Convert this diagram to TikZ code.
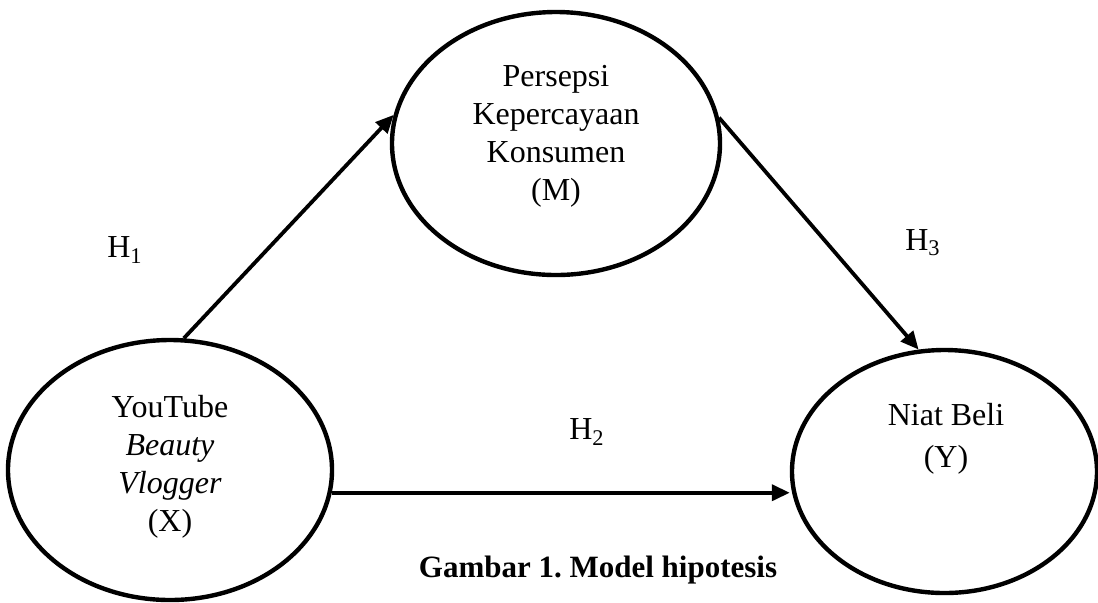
\documentclass[tikz,border=0pt]{standalone}
\usepackage{fontspec}
\setmainfont{Liberation Serif}
\usetikzlibrary{shapes.geometric,arrows.meta}
\tikzset{
  var/.style={ellipse, draw, line width=2.2pt, inner sep=0pt},
  lbl/.style={align=center, font=\fontsize{16}{19}\selectfont, inner sep=0pt},
  path/.style={line width=1.9pt, -{Triangle[length=9pt,width=8pt]}},
}
\begin{document}
\frenchspacing
\begin{tikzpicture}[x=0.5pt,y=-0.5pt]
\useasboundingbox (0,0) rectangle (1098,602);
\node[var, minimum width=162pt, minimum height=130pt] (X) at (170,470) {};
\node[var, minimum width=164pt, minimum height=131.5pt] (M) at (556,143.5) {};
\node[var, minimum width=152.5pt, minimum height=121.5pt] (Y) at (944.5,471.5) {};
\node[lbl] (Xt) at (170,467) {YouTube\\\textit{Beauty}\\\textit{Vlogger}\\(X)};
\node[lbl] (Mt) at (556,136) {Persepsi\\Kepercayaan\\Konsumen\\(M)};
\node[lbl] (Yt) at (946,439) {Niat Beli\\[2pt](Y)};
\node[lbl] (H1) at (125,250) {H\textsubscript{1}};
\node[lbl] (H2) at (587,432) {H\textsubscript{2}};
\node[lbl] (H3) at (923,243) {H\textsubscript{3}};
\node[lbl, font=\fontsize{15.5}{19}\selectfont\bfseries] (cap) at (598,570) {Gambar 1. Model hipotesis};
\draw[path] (X.84.8) -- (M.170.9);
\draw[path] (M.9.9) -- (Y.102.3);
\draw[path] (X.-8) -- (Y.west |- X.-8);
\end{tikzpicture}
\end{document}
